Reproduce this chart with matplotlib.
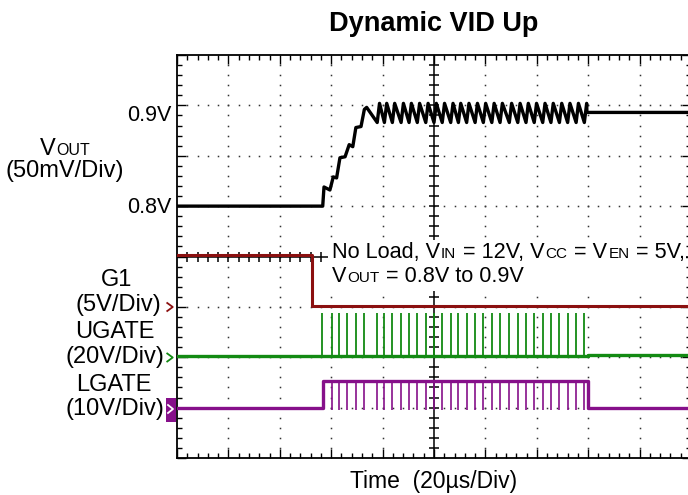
import matplotlib

matplotlib.use("Agg")
import matplotlib.pyplot as plt
from matplotlib.lines import Line2D
from matplotlib.patches import Rectangle
import numpy as np

W, H = 688, 495  # output size in pixels (dpi 100)
plt.rcParams["font.family"] = ["Liberation Sans", "DejaVu Sans"]

# --- values read off the scope capture (time in us, levels in volts) --------
# switching events (UGATE pulses) after the VID step
pulse_us = [56.5, 60.4, 63.0, 66.3, 69.5, 72.8, 77.9, 80.7, 83.8, 87.2, 90.3,
            93.5, 96.8, 100.0, 103.2, 106.5, 109.5, 112.7, 116.0, 119.2, 122.5,
            125.7, 129.3, 132.6, 135.8, 139.0, 142.3, 145.5, 148.8, 152.0,
            155.3, 158.5]

# VOUT staircase from 0.8V up to 0.9V
ramp_us = [0.0, 56.7, 57.2, 59.5, 60.8, 62.1, 63.4, 65.4, 67.0, 68.4, 69.6,
           71.6, 72.9, 73.8]
ramp_v = [0.800, 0.800, 0.819, 0.816, 0.829, 0.828, 0.848, 0.849, 0.861,
          0.859, 0.878, 0.879, 0.896, 0.898]
ripple_peak_v = 0.902
ripple_trough_v = 0.883
settle_us = 159.5
settle_v = 0.893

g1_us = [0.0, 52.5, 52.5, 200.0]
g1_v = [5.1, 5.1, 0.1, 0.1]

ugate_base_v = 0.3
ugate_top_v = 17.5
ugate_tail_v = 0.8

lgate_on_us = 57.0
lgate_off_us = 160.0
lgate_high_v = 5.2
lgate_low_v = 0.0
lgate_dip_v = -0.5

RED = "#8b1010"
GREEN = "#138a13"
PURPLE = "#86108a"


# --- scope channel scaling: screen div = ground div + volts / (V/div) -------
def vout_div(v):
    return 5.0 + (np.asarray(v) - 0.8) / 0.05


def g1_div(v):
    return 3.0 + np.asarray(v) / 5.0


def ugate_div(v):
    return 2.0 + np.asarray(v) / 20.0


def lgate_div(v):
    return 1.0 + np.asarray(v) / 10.0


def fx(x):
    return x / W


def fy(y):
    return 1 - y / H


def _space(fig, r, size):
    a = fig.text(0, 0, "n n", fontsize=size)
    b = fig.text(0, 0, "nn", fontsize=size)
    w = a.get_window_extent(r).width - b.get_window_extent(r).width
    a.remove()
    b.remove()
    return w


def rich(fig, x, y, pieces, ha="left", gap=1.0):
    """Draw [(text, size), ...] on one baseline at pixel (x, y), top-left origin."""
    r = fig.canvas.get_renderer()
    placed = []
    for s, size in pieces:
        sp = _space(fig, r, size)
        t = fig.text(0, 0, s.strip(" "), fontsize=size, va="baseline", ha="left")
        lead = (len(s) - len(s.lstrip(" "))) * sp
        trail = (len(s) - len(s.rstrip(" "))) * sp
        placed.append((t, lead, t.get_window_extent(r).width, trail))
    total = sum(a + w + b for _, a, w, b in placed) + gap * (len(placed) - 1)
    cur = x - total / 2 if ha == "center" else x
    for t, a, w, b in placed:
        cur += a
        t.set_position((fx(cur), fy(y)))
        cur += w + b + gap


def chevron(fig, x, y, color, half=4.0, width=5.5, lw=1.3):
    fig.add_artist(Line2D([fx(x - width / 2), fx(x + width / 2), fx(x - width / 2)],
                          [fy(y - half), fy(y), fy(y + half)],
                          transform=fig.transFigure, color=color, lw=lw))


# --- build the traces -------------------------------------------------------
vt, vv = list(ramp_us), list(ramp_v)
for p in pulse_us:
    if p > ramp_us[-1]:
        vt += [p, p + 0.9]
        vv += [ripple_trough_v, ripple_peak_v]
vt += [settle_us, 200.0]
vv += [settle_v, settle_v]

# UGATE: thick baseline plus thin switching pulses
ut = [0.0, lgate_off_us, lgate_off_us, 200.0]
uv = [ugate_base_v, ugate_base_v, ugate_tail_v, ugate_tail_v]

# LGATE: thick levels plus thin dips while the upper FET is on
lt = [0.0, lgate_on_us, lgate_on_us, lgate_off_us, lgate_off_us, 200.0]
lv = [lgate_low_v, lgate_low_v, lgate_high_v, lgate_high_v, lgate_low_v, lgate_low_v]
dips = [p for p in pulse_us if p > lgate_on_us + 1]

# --- figure -----------------------------------------------------------------
fig = plt.figure(figsize=(W / 100, H / 100), dpi=100)
ax = fig.add_axes([177 / W, 37 / H, 514 / W, 403 / H])
ax.set_xlim(0, 200)
ax.set_ylim(0, 8)

# dotted graticule, solid centre crosshair
dot = dict(ls="none", marker="s", ms=1.1, mew=0, color="#333333", zorder=1)
xs = np.arange(4, 200, 4)
ys = np.arange(0.2, 8, 0.2)
for gy in [1, 2, 3, 5, 6, 7]:
    ax.plot(xs, np.full_like(xs, gy, dtype=float), **dot)
for gx in [20, 40, 60, 80, 120, 140, 160, 180]:
    ax.plot(np.full_like(ys, gx), ys, **dot)
ax.axvline(100, color="black", lw=1.1, zorder=2)
ax.axhline(4, color="black", lw=1.1, zorder=2)
ax.plot(np.full_like(ys, 100.0), ys, ls="none", marker="_", ms=7, mew=1.1,
        color="black", zorder=2)
ax.plot(xs, np.full_like(xs, 4.0, dtype=float), ls="none", marker="|", ms=7,
        mew=1.1, color="black", zorder=2)

ax.set_xticks(np.arange(0, 201, 20))
ax.set_xticks(np.arange(0, 201, 4), minor=True)
ax.set_yticks(np.arange(0, 9, 1))
ax.set_yticks(np.arange(0, 8.01, 0.2), minor=True)
ax.tick_params(which="both", direction="in", top=True, right=True,
               labelbottom=False, labelleft=False, width=1.0, color="black")
ax.tick_params(which="major", length=6.5)
ax.tick_params(which="minor", length=3.6)
for s in ax.spines.values():
    s.set_linewidth(1.3)

# white box behind the test-condition note
ax.add_patch(Rectangle((fx(328), fy(291)), fx(686) - fx(328), fy(240) - fy(291),
                       transform=fig.transFigure, facecolor="white",
                       edgecolor="none", zorder=3))

ax.plot(g1_us, g1_div(g1_v), color=RED, lw=2.2, zorder=4)
ax.vlines(pulse_us, ugate_div(ugate_base_v), ugate_div(ugate_top_v),
          color=GREEN, lw=1.3, zorder=4)
ax.plot(ut, ugate_div(uv), color=GREEN, lw=2.4, zorder=4)
ax.vlines(dips, lgate_div(lgate_dip_v), lgate_div(lgate_high_v),
          color=PURPLE, lw=1.2, zorder=5)
ax.plot(lt, lgate_div(lv), color=PURPLE, lw=2.4, zorder=5)
ax.plot(vt, vout_div(vv), color="black", lw=2.4, zorder=6)

# --- labels -----------------------------------------------------------------
fig.text(fx(433.5), fy(31), "Dynamic VID Up", fontsize=19.5, fontweight="bold",
         ha="center", va="baseline")
fig.text(fx(433.5), fy(488), "Time  (20\u00b5s/Div)", fontsize=16.5,
         ha="center", va="baseline")

fig.text(fx(171), fy(121), "0.9V", fontsize=15.5, ha="right", va="baseline")
fig.text(fx(171), fy(213), "0.8V", fontsize=15.5, ha="right", va="baseline")
rich(fig, 65, 155, [("V", 17), ("OUT", 11.5)], ha="center")
fig.text(fx(65), fy(177), "(50mV/Div)", fontsize=17, ha="center", va="baseline")

fig.text(fx(117), fy(286), "G1", fontsize=17, ha="center", va="baseline")
fig.text(fx(118.5), fy(311), "(5V/Div)", fontsize=17, ha="center", va="baseline")
fig.text(fx(114.5), fy(338), "UGATE", fontsize=17, ha="center", va="baseline")
fig.text(fx(115), fy(363), "(20V/Div)", fontsize=17, ha="center", va="baseline")
fig.text(fx(113.5), fy(391), "LGATE", fontsize=17, ha="center", va="baseline")
fig.text(fx(115), fy(415), "(10V/Div)", fontsize=17, ha="center", va="baseline")

# channel ground markers
chevron(fig, 170, 307, RED)
chevron(fig, 170, 357.5, GREEN)
fig.add_artist(Rectangle((fx(166), fy(421.5)), fx(176) - fx(166), fy(398) - fy(421.5),
                         transform=fig.transFigure, facecolor=PURPLE, edgecolor="none"))
chevron(fig, 170.5, 409, "white", half=4.0, width=5.0)

big, small = 15.6, 11
rich(fig, 331.5, 258, [("No Load, V", big), ("IN", small), (" = 12V, V", big),
                       ("CC", small), (" = V", big), ("EN", small), (" = 5V,", big)])
rich(fig, 331.5, 282.5, [("V", big), ("OUT", small), (" = 0.8V to 0.9V", big)])

fig.savefig("out.png", dpi=100)
